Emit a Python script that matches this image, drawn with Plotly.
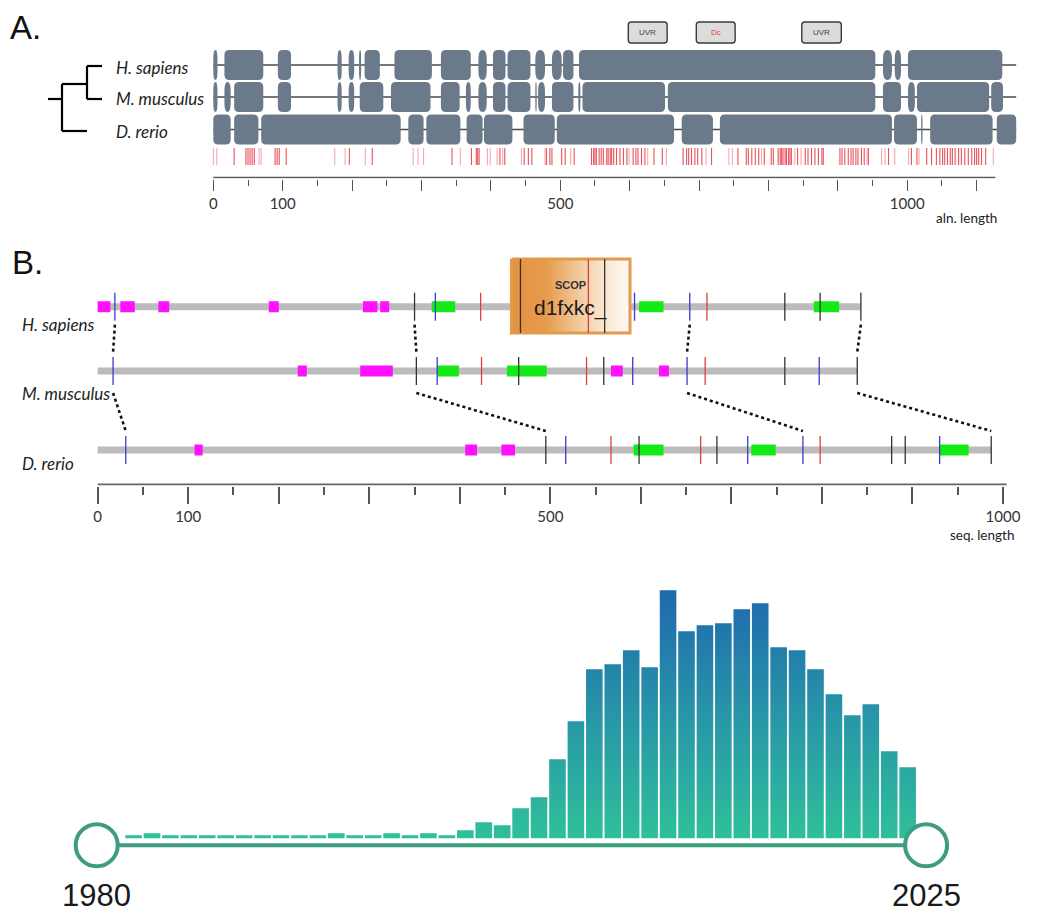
import plotly.graph_objects as go

W, H = 1047, 914

# ================= Panel A data (alignment positions) =================
species = ["H. sapiens", "M. musculus", "D. rerio"]
hs_blocks = [(0, 6), (16, 72), (93, 112), (179, 185), (195, 203), (210, 213), (218, 240),
             (261, 315), (328, 371), (382, 394), (403, 421), (424, 457), (464, 478),
             (488, 502), (504, 519), (527, 954), (965, 978), (982, 991), (1001, 1137)]
mm_blocks = [(0, 6), (16, 25), (30, 72), (93, 112), (179, 185), (195, 203), (211, 245),
             (256, 313), (328, 355), (364, 371), (382, 394), (403, 421), (424, 457),
             (464, 466), (468, 478), (488, 519), (526, 529), (532, 651), (655, 954),
             (965, 991), (1001, 1011), (1014, 1118), (1121, 1138)]
dr_blocks = [(0, 25), (30, 65), (69, 270), (281, 303), (307, 356), (365, 388), (390, 431),
             (447, 492), (495, 664), (675, 720), (730, 978), (981, 1014), (1020, 1022),
             (1033, 1123), (1129, 1157)]
aln_total = 1157
aln_axis_max = 1127

red_strong = [30, 47, 50, 53, 56, 59, 89, 92, 95, 105, 196, 229, 344, 372, 379, 381, 383,
              413, 420, 448, 454, 459, 480, 485, 488, 502, 507, 520, 545, 548, 550, 552,
              556, 559, 562, 567, 569, 572, 574, 577, 581, 586, 591, 596, 605, 609, 612,
              617, 622, 635, 647, 677, 682, 685, 689, 694, 698, 704, 718, 756, 768, 771,
              776, 781, 786, 794, 804, 807, 814, 817, 819, 821, 824, 826, 829, 831, 833,
              842, 853, 857, 862, 867, 872, 877, 879, 903, 906, 910, 915, 919, 922, 926,
              929, 934, 938, 944, 973, 1006, 1014, 1028, 1035, 1042, 1047, 1051, 1054,
              1058, 1062, 1065, 1069, 1074, 1078, 1083, 1088, 1093, 1097, 1100, 1103,
              1107, 1113]
red_faint = [0, 5, 66, 69, 175, 190, 219, 288, 295, 303, 356, 395, 399, 409, 417, 444, 478,
             515, 599, 626, 653, 710, 743, 748, 790, 838, 847, 942, 963, 968, 982, 1002,
             1017, 1124]

aln_domain_names = ["UVR", "Dc", "UVR"]
aln_domain_start = [598, 696, 848]
aln_domain_end = [654, 752, 905]
aln_tick_major = [0, 100, 200, 300, 400, 500, 600, 700, 800, 900, 1000, 1100]
aln_tick_labels = ["0", "100", "", "", "", "500", "", "", "", "", "1000", ""]
aln_tick_minor = [50, 150, 250, 350, 450, 550, 650, 750, 850, 950, 1050]

# ================= Panel B data (sequence positions) =================
seq_len = {"H": 843, "M": 839, "D": 987}
magenta = {"H": [(0, 14), (25, 41), (67, 79), (189, 200), (293, 309), (312, 322)],
           "M": [(221, 231), (290, 326), (567, 580), (620, 631)],
           "D": [(107, 116), (406, 419), (446, 461)]}
green = {"H": [(369, 395), (598, 625), (791, 819)],
         "M": [(375, 399), (452, 496)],
         "D": [(592, 625), (722, 749), (930, 962)]}
sites_blue = {"H": [19, 373, 593, 654], "M": [17, 375, 591, 651, 797],
              "D": [31, 517, 718, 779, 930]}
sites_red = {"H": [423, 542, 673], "M": [424, 540, 671], "D": [567, 666, 798]}
sites_black = {"H": [350, 467, 560, 759, 798, 843], "M": [352, 465, 559, 759, 839],
               "D": [495, 598, 684, 877, 892, 987]}
scop_id = "d1fxkc_"
scop_start, scop_end = 457, 588
connectors = [("H", 19, "M", 17), ("M", 17, "D", 31), ("H", 350, "M", 352),
              ("M", 352, "D", 495), ("H", 654, "M", 651), ("M", 651, "D", 779),
              ("H", 843, "M", 839), ("M", 839, "D", 987)]
seq_tick_major = [0, 100, 200, 300, 400, 500, 600, 700, 800, 900, 1000]
seq_tick_labels = ["0", "100", "", "", "", "500", "", "", "", "", "1000"]
seq_tick_minor = [50, 150, 250, 350, 450, 550, 650, 750, 850, 950]

# ================= Histogram data =================
years = [1982, 1983, 1984, 1985, 1986, 1987, 1988, 1989, 1990, 1991, 1992, 1993, 1994,
         1995, 1996, 1997, 1998, 1999, 2000, 2001, 2002, 2003, 2004, 2005, 2006, 2007,
         2008, 2009, 2010, 2011, 2012, 2013, 2014, 2015, 2016, 2017, 2018, 2019, 2020,
         2021, 2022, 2023, 2024]
counts = [3, 5, 3, 3, 3, 3, 3, 3, 3, 3, 3, 5, 3, 3, 5, 3, 5, 3, 8, 16, 13, 30, 41, 79, 117,
          169, 174, 188, 171, 248, 207, 213, 215, 229, 235, 191, 188, 169, 144, 123, 134,
          87, 71]
slider_start, slider_end = 1980, 2025

# ================= layout constants =================
XR_A = [-307.4, 1201.4]
YR_A = [178.5, 0]
ROW_A = {"H": 65, "M": 97, "D": 129.5}
BLK_H = 15
XR_B = [-107.9, 1048.6]
YR_B = [485.5, 245]
ROW_B = {"H": 306.7, "M": 371, "D": 450}
XR_C = [1974.753, 2031.56]
YR_C = [-75.7, 263.3]
LABEL_FONT = "Lato, Liberation Sans"

kxA = (XR_A[1] - XR_A[0]) / W
kxB = (XR_B[1] - XR_B[0]) / W


def px(x):
    return x / W


def py(y):
    return 1 - y / H


def rrect_path(x0, x1, y0, y1, r, kx):
    wpx = (x1 - x0) / kx
    ry = r if wpx >= 10 else 9
    ry = min(ry, (y1 - y0) / 2)
    rx = min(r, wpx / 2) * kx
    return (f"M {x0 + rx},{y0} L {x1 - rx},{y0} Q {x1},{y0} {x1},{y0 + ry} "
            f"L {x1},{y1 - ry} Q {x1},{y1} {x1 - rx},{y1} L {x0 + rx},{y1} "
            f"Q {x0},{y1} {x0},{y1 - ry} L {x0},{y0 + ry} Q {x0},{y0} {x0 + rx},{y0} Z")


shapes = []
annotations = []
fig = go.Figure()

# ---------------- Panel A ----------------
BLOCK_COL = "#6b7a8a"
for key, blocks in zip(["H", "M", "D"], [hs_blocks, mm_blocks, dr_blocks]):
    y = ROW_A[key]
    shapes.append(dict(type="line", xref="x", yref="y", x0=0, x1=aln_total, y0=y, y1=y,
                       line=dict(color="#4a4a4a", width=1.6), layer="below"))
for key, blocks in zip(["H", "M", "D"], [hs_blocks, mm_blocks, dr_blocks]):
    y = ROW_A[key]
    for s, e in blocks:
        shapes.append(dict(type="path", xref="x", yref="y",
                           path=rrect_path(s, e, y - BLK_H, y + BLK_H, 5, kxA),
                           fillcolor=BLOCK_COL, line=dict(width=0), layer="below"))
for name, s, e in zip(aln_domain_names, aln_domain_start, aln_domain_end):
    shapes.append(dict(type="path", xref="x", yref="y",
                       path=rrect_path(s, e, 22, 43, 3, kxA),
                       fillcolor="#dcdcdc", line=dict(color="#3a3a3a", width=1.4),
                       layer="below"))
    annotations.append(dict(x=(s + e) / 2, y=32.5, xref="x", yref="y", text=name,
                            showarrow=False,
                            font=dict(size=8, family="Liberation Sans",
                                      color="#e03a3a" if name == "Dc" else "#444")))
shapes.append(dict(type="line", xref="x", yref="y", x0=0, x1=aln_axis_max, y0=177.5,
                   y1=177.5, line=dict(color="#555", width=1.6)))


def vlines(xs, y0, y1):
    X, Y = [], []
    for v in xs:
        X += [v, v, None]
        Y += [y0, y1, None]
    return X, Y


X, Y = vlines(red_faint, 148, 165)
fig.add_trace(go.Scatter(x=X, y=Y, mode="lines", xaxis="x", yaxis="y",
                         line=dict(color="#f5a9ae", width=1.1), hoverinfo="skip"))
X, Y = vlines(red_strong, 148, 165)
fig.add_trace(go.Scatter(x=X, y=Y, mode="lines", xaxis="x", yaxis="y",
                         line=dict(color="#e8525a", width=1.1), hoverinfo="skip"))

tree_segs = [((48, 99), (62, 99)), ((62, 84), (62, 131)), ((62, 84), (87, 84)),
             ((62, 131), (87, 131)), ((87, 66), (87, 99)), ((87, 66), (102, 66)),
             ((87, 99), (102, 99))]
for (a, b), (c, d) in tree_segs:
    shapes.append(dict(type="line", xref="paper", yref="paper", x0=px(a), y0=py(b),
                       x1=px(c), y1=py(d), line=dict(color="black", width=2.2)))
for name, yy in zip(species, [67, 98, 131]):
    annotations.append(dict(x=px(114), y=py(yy), xref="paper", yref="paper",
                            xanchor="left", yanchor="middle", showarrow=False,
                            text=f"<i>{name}</i>",
                            font=dict(size=17, family=LABEL_FONT, color="#222")))
annotations.append(dict(x=px(8), y=py(27), xref="paper", yref="paper", xanchor="left",
                        yanchor="middle", text="A.", showarrow=False,
                        font=dict(size=33, family="Liberation Sans", color="#111")))
annotations.append(dict(x=px(999), y=py(218), xref="paper", yref="paper", xanchor="right",
                        yanchor="middle", text="aln. length", showarrow=False,
                        font=dict(size=13.5, family=LABEL_FONT, color="#222")))

# ---------------- Panel B ----------------
for key in ["H", "M", "D"]:
    y = ROW_B[key]
    shapes.append(dict(type="line", xref="x2", yref="y2", x0=0, x1=seq_len[key], y0=y,
                       y1=y, line=dict(color="#bcbcbc", width=7), layer="below"))
for key in ["H", "M", "D"]:
    y = ROW_B[key]
    for s, e in magenta[key]:
        shapes.append(dict(type="rect", xref="x2", yref="y2", x0=s, x1=e, y0=y - 5.5,
                           y1=y + 5.5, fillcolor="#ff10ff", line=dict(width=0),
                           layer="below"))
    for s, e in green[key]:
        shapes.append(dict(type="rect", xref="x2", yref="y2", x0=s, x1=e, y0=y - 5.5,
                           y1=y + 5.5, fillcolor="#14ea14", line=dict(width=0),
                           layer="below"))
shapes.append(dict(type="line", xref="x2", yref="y2", x0=0, x1=1004, y0=484.5, y1=484.5,
                   line=dict(color="#666", width=2)))

box_top, box_bot = ROW_B["H"] - 47.7, ROW_B["H"] + 26.3
fig.add_trace(go.Scatter(
    x=[scop_start, scop_end, scop_end, scop_start, scop_start],
    y=[box_top, box_top, box_bot, box_bot, box_top], mode="lines", fill="toself",
    xaxis="x2", yaxis="y2", line=dict(color="#e49a4c", width=3),
    fillgradient=dict(type="horizontal", start=scop_start, stop=scop_end,
                      colorscale=[[0, "#e2923e"], [0.3, "#e69c4e"], [0.6, "#f3cfa6"],
                                  [0.8, "#fae8d6"], [1, "#fffaf5"]]),
    hoverinfo="skip"))
annotations.append(dict(x=(scop_start + scop_end) / 2, y=285, xref="x2", yref="y2",
                        text="<b>SCOP</b>", showarrow=False,
                        font=dict(size=11, family="Liberation Sans", color="#333")))
annotations.append(dict(x=(scop_start + scop_end) / 2, y=308, xref="x2", yref="y2",
                        text=scop_id, showarrow=False,
                        font=dict(size=21, family="Liberation Sans", color="#1a1a1a")))

for sites, col in [(sites_black, "#333333"), (sites_blue, "#3a3ad0"), (sites_red, "#e0403a")]:
    X, Y = [], []
    for key in ["H", "M", "D"]:
        y = ROW_B[key]
        for v in sites[key]:
            if key == "H" and scop_start <= v <= scop_end:
                X += [v, v, None]
                Y += [box_top, box_bot, None]
            else:
                X += [v, v, None]
                Y += [y - 14, y + 14, None]
    fig.add_trace(go.Scatter(x=X, y=Y, mode="lines", xaxis="x2", yaxis="y2",
                             line=dict(color=col, width=1.3), hoverinfo="skip"))

X, Y = [], []
for a, pa, b, pb in connectors:
    if a == "H":
        y0, y1 = ROW_B[a] + 18, ROW_B[b] - 19
    else:
        y0, y1 = ROW_B[a] + 22, ROW_B[b] - 19
    X += [pa, pb, None]
    Y += [y0, y1, None]
fig.add_trace(go.Scatter(x=X, y=Y, mode="lines", xaxis="x2", yaxis="y2",
                         line=dict(color="#111", width=2.6, dash="dot"), hoverinfo="skip"))

for name, yy in zip(species, [324, 394, 463]):
    annotations.append(dict(x=px(19.5), y=py(yy), xref="paper", yref="paper",
                            xanchor="left", yanchor="middle", showarrow=False,
                            text=f"<i>{name}</i>",
                            font=dict(size=17, family=LABEL_FONT, color="#222")))
annotations.append(dict(x=px(10), y=py(262), xref="paper", yref="paper", xanchor="left",
                        yanchor="middle", text="B.", showarrow=False,
                        font=dict(size=33, family="Liberation Sans", color="#111")))
annotations.append(dict(x=px(1016), y=py(535), xref="paper", yref="paper", xanchor="right",
                        yanchor="middle", text="seq. length", showarrow=False,
                        font=dict(size=13.5, family=LABEL_FONT, color="#222")))

# ---------------- Histogram ----------------
fig.add_trace(go.Scatter(x=[slider_start, slider_end], y=[-7, -7], mode="lines",
                         xaxis="x3", yaxis="y3", line=dict(color="#3f9d84", width=4),
                         hoverinfo="skip"))
BX, BY = [], []
for yr, c in zip(years, counts):
    BX += [yr - 0.45, yr - 0.45, yr + 0.45, yr + 0.45, yr - 0.45, None]
    BY += [0, c, c, 0, 0, None]
fig.add_trace(go.Scatter(
    x=BX, y=BY, mode="lines", fill="toself", xaxis="x3", yaxis="y3",
    line=dict(width=0, color="rgba(0,0,0,0)"),
    fillgradient=dict(type="vertical", start=0, stop=250,
                      colorscale=[[0, "#2fbf9a"], [0.45, "#2899a7"], [1, "#1f68ae"]]),
    hoverinfo="skip"))
fig.add_trace(go.Scatter(x=[slider_start, slider_end], y=[-7, -7], mode="markers",
                         xaxis="x3", yaxis="y3",
                         marker=dict(size=42, color="white",
                                     line=dict(color="#3f9b83", width=4)),
                         hoverinfo="skip"))
for yr in [slider_start, slider_end]:
    annotations.append(dict(x=yr, y=-57.5, xref="x3", yref="y3", text=str(yr),
                            showarrow=False,
                            font=dict(size=31, family="Liberation Sans", color="#1a1a1a")))

tickfontA = dict(size=15, family=LABEL_FONT, color="#333")
tickfontB = dict(size=15, family=LABEL_FONT, color="#333")
fig.update_layout(
    width=W, height=H, margin=dict(l=0, r=0, t=0, b=0),
    paper_bgcolor="white", plot_bgcolor="rgba(0,0,0,0)", showlegend=False,
    shapes=shapes, annotations=annotations,
    xaxis=dict(domain=[0, 1], range=XR_A, anchor="y", showgrid=False, zeroline=False,
               showline=False, tickmode="array", tickvals=aln_tick_major,
               ticktext=aln_tick_labels, ticks="outside", ticklen=11, tickwidth=1.4,
               tickcolor="#555", tickfont=tickfontA,
               minor=dict(tickmode="array", tickvals=aln_tick_minor, ticks="outside",
                          ticklen=6, tickwidth=1.4, tickcolor="#555", showgrid=False)),
    yaxis=dict(domain=[1 - 178.5 / H, 1], range=YR_A, visible=False),
    xaxis2=dict(domain=[0, 1], range=XR_B, anchor="y2", showgrid=False, zeroline=False,
                showline=False, tickmode="array", tickvals=seq_tick_major,
                ticktext=seq_tick_labels, ticks="outside", ticklen=17, tickwidth=1.6,
                tickcolor="#555", tickfont=tickfontB,
                minor=dict(tickmode="array", tickvals=seq_tick_minor, ticks="outside",
                           ticklen=8, tickwidth=1.6, tickcolor="#555", showgrid=False)),
    yaxis2=dict(domain=[1 - 485.5 / H, 1 - 245 / H], range=YR_B, visible=False),
    xaxis3=dict(domain=[0, 1], range=XR_C, anchor="y3", visible=False),
    yaxis3=dict(domain=[0, 1 - 575 / H], range=YR_C, visible=False),
)

fig.write_html("out.html", config={"displayModeBar": False},
               post_script="document.body.style.margin='0';"
                           "document.body.style.overflow='hidden';")
